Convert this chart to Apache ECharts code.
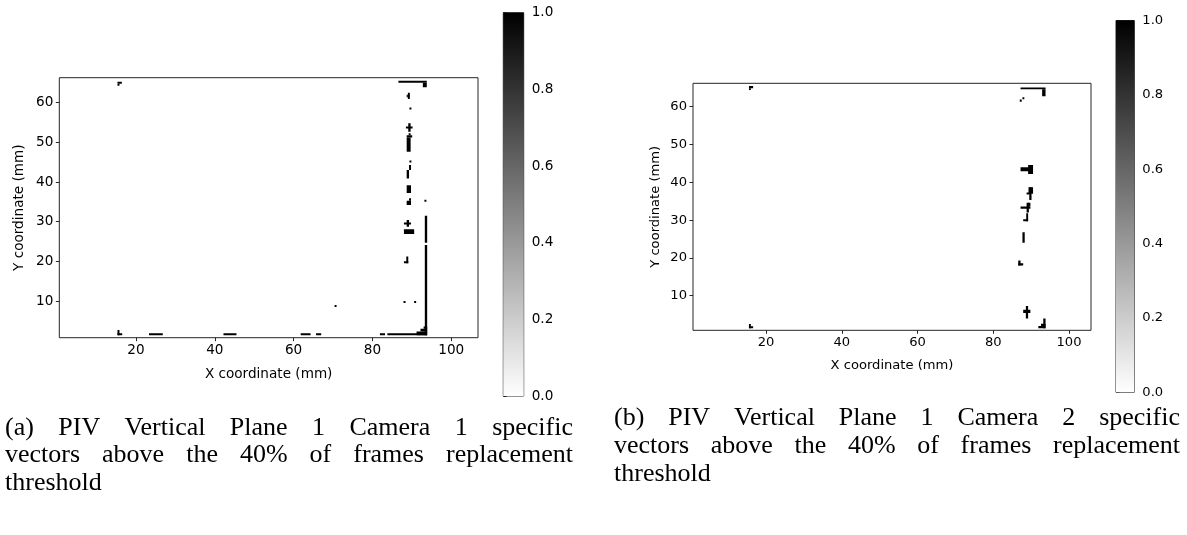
<!DOCTYPE html>
<html><head><meta charset="utf-8">
<script src="https://cdn.jsdelivr.net/npm/echarts@6/dist/echarts.min.js"></script>
<style>html,body{margin:0;padding:0;background:#fff}#c{width:1187px;height:535px}</style>
</head><body><div id="c"></div><script>
// ---- data (mm) ----
const xTickValues = [20, 40, 60, 80, 100];
const yTickValues = [10, 20, 30, 40, 50, 60];
const colorbarTicks = [0, 0.2, 0.4, 0.6, 0.8, 1.0];
const xRange1 = [0.53, 106.8], yRange1 = [0.75, 66.3];
const xRange2 = [0.73, 105.8], yRange2 = [0.85, 66.2];
// flagged vector blocks: [x0, y0, x1, y1, value]
const camera1Blocks = [
  [15.3,64.8,16.4,65.3,1],[15.3,64.3,15.8,64.8,1],
  [15.3,1.35,15.8,2.7,1],[15.3,1.35,16.5,1.85,1],
  [23.3,1.35,26.8,1.85,1],[42.2,1.35,45.5,1.85,1],[61.8,1.35,64.3,1.85,1],
  [65.7,1.35,67.0,1.85,1],[81.9,1.35,83.2,1.85,1],[83.8,1.35,93.8,1.85,1],
  [91.2,1.35,93.9,2.3,1],[92.2,2.3,93.9,3.0,1],[93.0,3.0,93.9,3.6,1],
  [93.3,1.35,93.9,24.1,1],[93.3,24.7,93.9,31.5,1],[93.2,35.0,93.7,35.5,1],
  [87.9,9.5,88.4,10.0,1],[90.6,9.5,91.1,10.0,1],[70.4,8.5,70.9,9.0,1],
  [88.6,19.5,89.1,21.2,1],[88.0,19.5,89.1,20.0,1],
  [88.0,26.9,90.6,28.1,1],
  [88.7,28.7,89.3,30.4,1],[88.0,29.3,89.8,29.8,1],
  [88.7,34.2,89.8,35.3,1],[89.3,35.3,89.8,35.9,1],
  [88.7,37.2,89.8,39.2,1],
  [88.7,40.9,89.3,43.0,1],[89.3,43.0,89.8,44.3,1],[89.4,44.9,89.9,45.4,1],
  [88.7,47.6,89.7,51.2,1],[88.7,51.2,90.1,51.8,1],[89.2,51.8,89.7,52.3,1],
  [88.5,53.5,90.2,54.0,1],[89.1,52.7,89.7,54.8,1],
  [89.4,58.3,89.9,58.8,1],
  [89.0,60.9,89.5,62.5,1],[88.7,61.4,89.0,62.0,1],
  [86.6,65.0,93.8,65.5,1],[92.8,63.9,93.8,65.0,1]
];
const camera2Blocks = [
  [15.5,64.9,16.6,65.5,1],[15.5,64.4,16.0,64.9,1],
  [15.5,1.4,16.0,2.5,1],[15.5,1.4,16.6,1.9,1],
  [87.2,64.6,93.8,65.1,1],[92.9,62.8,93.8,64.6,1],
  [87.0,61.3,87.5,61.9,1],[87.7,62.0,88.2,62.5,1],
  [87.2,42.9,89.5,44.0,1],[89.2,42.2,90.5,44.6,1],
  [89.5,35.3,90.1,38.7,1],[89.3,37.0,90.5,38.7,1],[88.8,36.8,89.5,37.3,1],
  [87.2,33.0,89.8,33.6,1],[88.8,32.0,89.4,34.6,1],[89.2,33.6,89.8,34.6,1],
  [88.7,29.7,89.2,31.8,1],[87.9,29.7,89.2,30.2,1],
  [87.7,24.0,88.3,26.8,1],
  [86.6,18.0,87.2,19.3,1],[86.6,18.0,87.9,18.6,1],
  [88.6,4.0,89.2,7.3,1],[87.9,5.4,89.8,6.3,1],
  [93.2,1.4,93.8,4.0,1],[91.9,1.4,93.8,2.0,1],[92.6,2.0,93.8,2.6,1]
];
const captionA = ["(a) PIV Vertical Plane 1 Camera 1 specific", "vectors above the 40% of frames replacement", "threshold"];
const captionB = ["(b) PIV Vertical Plane 1 Camera 2 specific", "vectors above the 40% of frames replacement", "threshold"];

// ---- rendering ----
const FONT = 'DejaVu Sans';
const AX = '#262626';
function renderBlock(params, api) {
  const a = api.coord([api.value(0), api.value(1)]);
  const b = api.coord([api.value(2), api.value(3)]);
  return {type:'rect', shape:{x:Math.min(a[0],b[0]), y:Math.min(a[1],b[1]), width:Math.abs(b[0]-a[0]), height:Math.abs(b[1]-a[1])},
    style:{fill: api.visual('color')}};
}
function renderBar(params, api) {
  const a = api.coord([0, 0]);
  const b = api.coord([1, 1]);
  return {type:'rect', shape:{x:a[0], y:b[1], width:b[0]-a[0], height:a[1]-b[1]},
    style:{fill:{type:'linear', x:0, y:1, x2:0, y2:0, colorStops:[{offset:0,color:'#ffffff'},{offset:1,color:'#000000'}]}}};
}
function heatX(gi, range, fs, gap) {
  return {type:'value', gridIndex:gi, min:range[0], max:range[1], name:'X coordinate (mm)', nameLocation:'middle', nameGap:gap,
    nameTextStyle:{fontFamily:FONT, fontSize:fs, color:'#000'},
    axisLine:{show:false}, splitLine:{show:false},
    axisTick:{show:true, length:3.5, lineStyle:{color:AX}, customValues:xTickValues},
    axisLabel:{fontFamily:FONT, fontSize:fs, color:'#000', margin:6, customValues:xTickValues}};
}
function heatY(gi, range, fs, gap) {
  return {type:'value', gridIndex:gi, min:range[0], max:range[1], name:'Y coordinate (mm)', nameLocation:'middle', nameGap:gap, nameRotate:90,
    nameTextStyle:{fontFamily:FONT, fontSize:fs, color:'#000'},
    axisLine:{show:false}, splitLine:{show:false},
    axisTick:{show:true, length:3.5, lineStyle:{color:AX}, customValues:yTickValues},
    axisLabel:{fontFamily:FONT, fontSize:fs, color:'#000', margin:6, customValues:yTickValues}};
}
function cbX(gi){ return {type:'value', gridIndex:gi, min:0, max:1, show:false}; }
function cbY(gi, fs){
  return {type:'value', gridIndex:gi, min:0, max:1, interval:0.2, position:'right',
    axisLine:{show:false}, splitLine:{show:false},
    axisTick:{show:true, length:3.5, lineStyle:{color:AX}},
    axisLabel:{fontFamily:FONT, fontSize:fs, color:'#000', margin:8, formatter:v=>v.toFixed(1), customValues:colorbarTicks}};
}
const border = {show:true, borderColor:AX, borderWidth:1, backgroundColor:'rgba(0,0,0,0)'};

// captions: justified lines
const mctx = document.createElement('canvas').getContext('2d');
const CAP_FONT_SIZE = 26;
const CAP_FONT = CAP_FONT_SIZE + 'px "Liberation Serif"';
mctx.font = CAP_FONT;
function captionGraphics(lines, xL, xR, ys) {
  const els = [];
  lines.forEach((line, li) => {
    const words = line.split(' ');
    const widths = words.map(w => mctx.measureText(w).width);
    const total = widths.reduce((s, w) => s + w, 0);
    const last = li === lines.length - 1;
    const gap = last || words.length < 2 ? mctx.measureText(' ').width : (xR - xL - total) / (words.length - 1);
    let x = xL;
    words.forEach((w, i) => {
      els.push({type:'text', x:x, y:ys[li], style:{text:w, font:CAP_FONT, fill:'#000', textAlign:'left', textVerticalAlign:'middle'}});
      x += widths[i] + gap;
    });
  });
  return els;
}

const chart = echarts.init(document.getElementById('c'), null, {renderer:'canvas'});
chart.setOption({
  backgroundColor:'#ffffff',
  animation:false,
  grid:[
    Object.assign({left:59.3, top:77.7, width:418.7, height:260}, border),
    Object.assign({left:503.3, top:12.7, width:20.4, height:383.3}, border),
    Object.assign({left:693, top:83.3, width:398, height:247}, border),
    Object.assign({left:1116, top:20.5, width:18.3, height:371.8}, border)
  ],
  xAxis:[heatX(0, xRange1, 13.6, 30), cbX(1), heatX(2, xRange2, 13.1, 28.5), cbX(3)],
  yAxis:[heatY(0, yRange1, 13.6, 32.5), cbY(1, 13.6), heatY(2, yRange2, 13.1, 30.5), cbY(3, 13.1)],
  visualMap:[{type:'continuous', show:false, min:0, max:1, dimension:4, seriesIndex:[0,2], inRange:{color:['#ffffff','#000000']}}],
  series:[
    {type:'custom', xAxisIndex:0, yAxisIndex:0, renderItem:renderBlock, data:camera1Blocks, clip:true, encode:{x:[0,2], y:[1,3]}},
    {type:'custom', xAxisIndex:1, yAxisIndex:1, renderItem:renderBar, data:[[0,1]], silent:true},
    {type:'custom', xAxisIndex:2, yAxisIndex:2, renderItem:renderBlock, data:camera2Blocks, clip:true, encode:{x:[0,2], y:[1,3]}},
    {type:'custom', xAxisIndex:3, yAxisIndex:3, renderItem:renderBar, data:[[0,1]], silent:true}
  ],
  graphic: captionGraphics(captionA, 5, 573, [428, 455.5, 483]).concat(captionGraphics(captionB, 614, 1180, [418, 446, 474]))
});
</script></body></html>
